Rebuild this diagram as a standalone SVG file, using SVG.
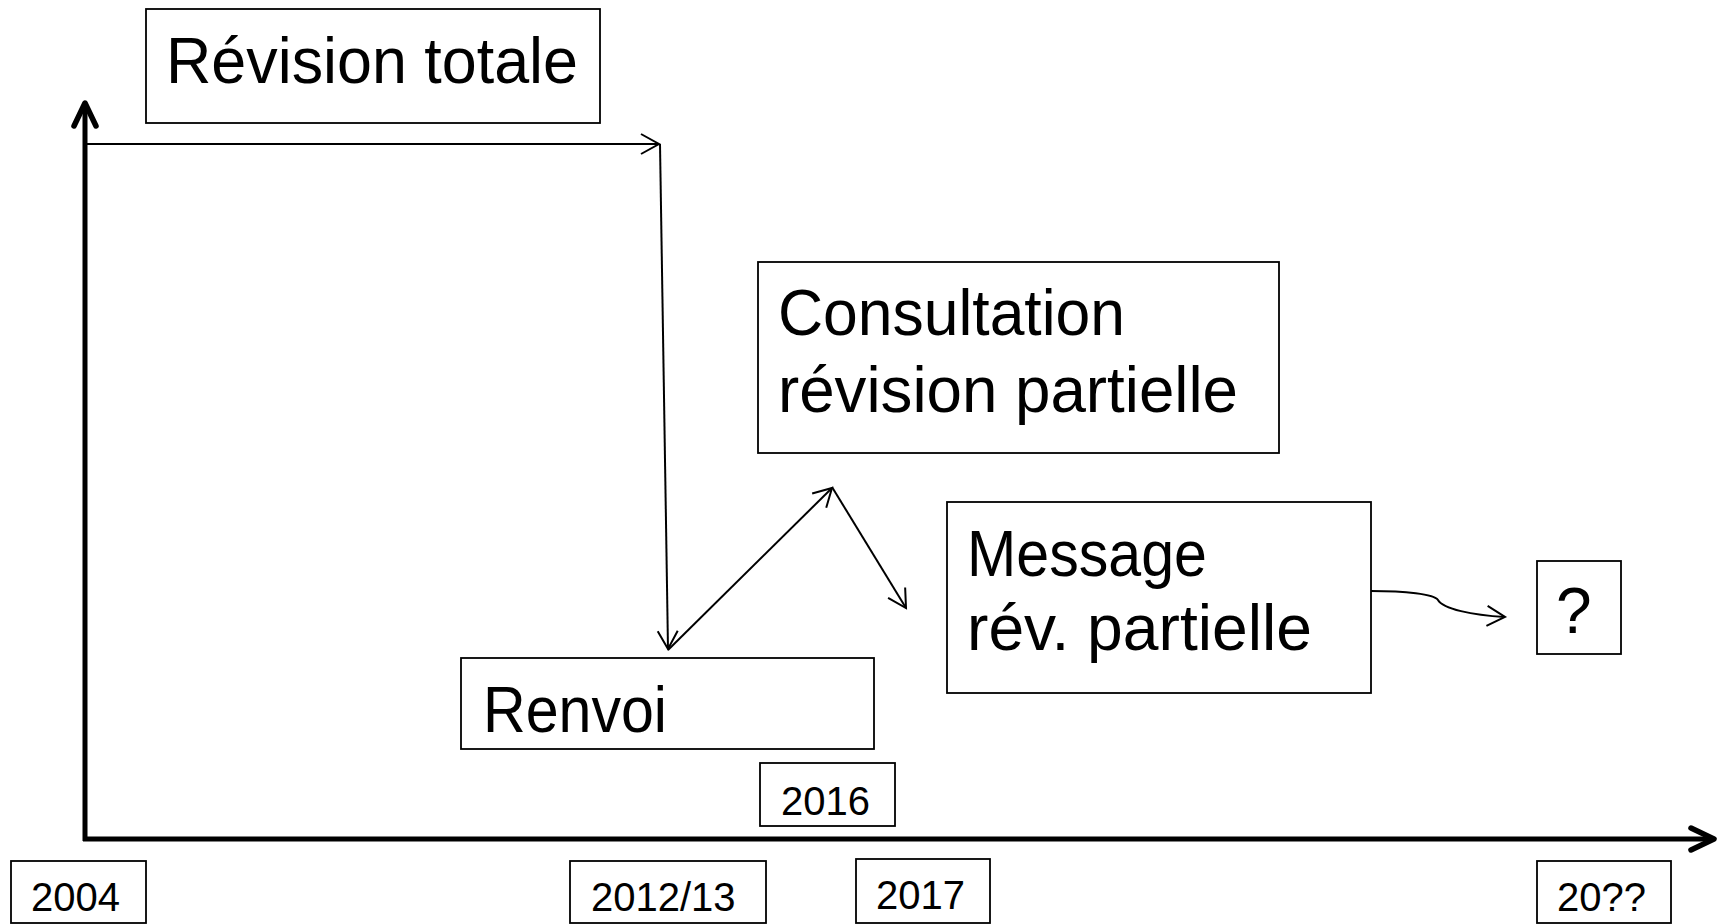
<svg xmlns="http://www.w3.org/2000/svg" width="1725" height="924" viewBox="0 0 1725 924">
<style>
.box{fill:#fff;stroke:#000;stroke-width:1.8}
.big{font-family:"Liberation Sans",Arial,sans-serif;font-size:64px;fill:#000}
.yr{font-family:"Liberation Sans",Arial,sans-serif;font-size:40px;fill:#000}
.thin{fill:none;stroke:#000;stroke-width:2}
.axis{fill:none;stroke:#000;stroke-width:5}
</style>
<defs>
<marker id="arr" viewBox="-22 -13 26 26" markerWidth="26" markerHeight="26" refX="0" refY="0" orient="auto" markerUnits="userSpaceOnUse">
<path d="M-18,-10 L0,0 L-18,10" fill="none" stroke="#000" stroke-width="2"/>
</marker>
<marker id="axarr" viewBox="-30 -18 36 36" markerWidth="36" markerHeight="36" refX="0" refY="0" orient="auto" markerUnits="userSpaceOnUse">
<path d="M-23,-11 L0,0 L-23,11" fill="none" stroke="#000" stroke-width="5.5" stroke-linecap="round" stroke-linejoin="round"/>
</marker>
</defs>
<rect width="1725" height="924" fill="#fff"/>

<g id="axes">
<path class="axis" d="M85,841 L85,103" marker-end="url(#axarr)"/>
<path class="axis" d="M83,839 L1714,839" marker-end="url(#axarr)"/>
</g>

<g id="revision-totale">
<rect class="box" x="146" y="9" width="454" height="114"/>
<text class="big" x="166" y="83" textLength="412" lengthAdjust="spacingAndGlyphs">Révision totale</text>
</g>

<g id="consultation">
<rect class="box" x="758" y="262" width="521" height="191"/>
<text class="big" x="778" y="335" textLength="347" lengthAdjust="spacingAndGlyphs">Consultation</text>
<text class="big" x="778" y="412" textLength="460" lengthAdjust="spacingAndGlyphs">révision partielle</text>
</g>

<g id="message">
<rect class="box" x="947" y="502" width="424" height="191"/>
<text class="big" x="967" y="576" textLength="240" lengthAdjust="spacingAndGlyphs">Message</text>
<text class="big" x="967" y="650" textLength="345" lengthAdjust="spacingAndGlyphs">rév. partielle</text>
</g>

<g id="renvoi">
<rect class="box" x="461" y="658" width="413" height="91"/>
<text class="big" x="483" y="732" textLength="184" lengthAdjust="spacingAndGlyphs">Renvoi</text>
</g>

<g id="question">
<rect class="box" x="1537" y="561" width="84" height="93"/>
<text class="big" x="1556" y="633">?</text>
</g>

<g id="y2016">
<rect class="box" x="760" y="763" width="135" height="63"/>
<text class="yr" x="781" y="815">2016</text>
</g>

<g id="y2004">
<rect class="box" x="11" y="861" width="135" height="62"/>
<text class="yr" x="31" y="911">2004</text>
</g>

<g id="y2012">
<rect class="box" x="570" y="861" width="196" height="62"/>
<text class="yr" x="591" y="911">2012/13</text>
</g>

<g id="y2017">
<rect class="box" x="856" y="859" width="134" height="64"/>
<text class="yr" x="876" y="909">2017</text>
</g>

<g id="y20xx">
<rect class="box" x="1537" y="861" width="134" height="62"/>
<text class="yr" x="1557" y="911">20??</text>
</g>

<g id="connectors">
<path class="thin" d="M85,144 L659,144" marker-end="url(#arr)"/>
<path class="thin" d="M660,144 L668,649" marker-end="url(#arr)"/>
<path class="thin" d="M668,650 L832,488" marker-end="url(#arr)"/>
<path class="thin" d="M832,487 L906,608" marker-end="url(#arr)"/>
<path class="thin" d="M1371,591 C1405,591 1434,594 1438,600 C1443,609 1472,615 1505,617" marker-end="url(#arr)"/>
</g>
</svg>
